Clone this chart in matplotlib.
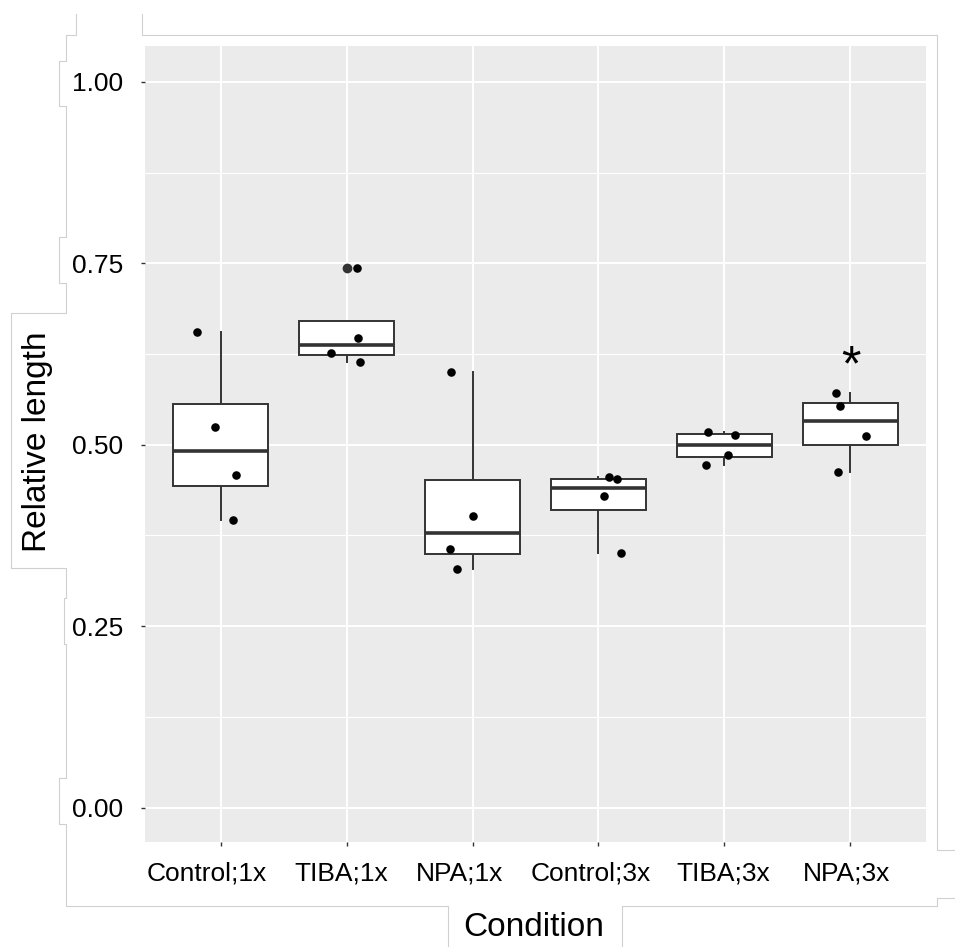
import numpy as np
import matplotlib.pyplot as plt
import matplotlib.transforms as mtransforms
from matplotlib.lines import Line2D

# ---------------------------------------------------------------------------
# Data
# ---------------------------------------------------------------------------
conditions = ["Control;1x", "TIBA;1x", "NPA;1x", "Control;3x", "TIBA;3x", "NPA;3x"]

rel_length = [
    [0.655, 0.524, 0.459, 0.396],   # Control;1x
    [0.743, 0.647, 0.627, 0.614],   # TIBA;1x
    [0.600, 0.402, 0.356, 0.329],   # NPA;1x
    [0.455, 0.453, 0.429, 0.351],   # Control;3x
    [0.518, 0.514, 0.486, 0.472],   # TIBA;3x
    [0.572, 0.553, 0.512, 0.4625],  # NPA;3x
]

# horizontal jitter of each point (in category units), same order as above
jitter = [
    [-0.19, -0.045, 0.125, 0.10],
    [0.08, 0.087, -0.127, 0.11],
    [-0.17, 0.0, -0.18, -0.125],
    [0.08, 0.148, 0.047, 0.18],
    [-0.127, 0.087, 0.03, -0.15],
    [-0.116, -0.082, 0.122, -0.095],
]

signif = ["", "", "", "", "", "*"]

# ---------------------------------------------------------------------------
# Figure
# ---------------------------------------------------------------------------
W, H = 955, 947
plt.rcParams["font.family"] = ["Liberation Sans", "DejaVu Sans"]

fig = plt.figure(figsize=(W / 100, H / 100), dpi=100)
ax = fig.add_axes([145 / W, 1 - 841.7 / H, (926 - 145) / W, (841.7 - 45.7) / H])

pos = np.arange(1, len(conditions) + 1)
line_col = "#333333"

ax.boxplot(
    rel_length, positions=pos, widths=0.75, patch_artist=True,
    whis=1.5, showcaps=False,
    boxprops=dict(facecolor="white", edgecolor=line_col, linewidth=1.4, zorder=3),
    whiskerprops=dict(color=line_col, linewidth=1.4, zorder=2),
    medianprops=dict(color=line_col, linewidth=2.6, zorder=3.5),
    flierprops=dict(marker="o", markerfacecolor=line_col, markeredgecolor=line_col,
                    markersize=6, zorder=4),
)

for i, (vals, jit) in enumerate(zip(rel_length, jitter)):
    ax.scatter(pos[i] + np.array(jit), vals, s=38, color="black",
               linewidths=0, zorder=5)

for i, lab in enumerate(signif):
    if lab:
        top = max(rel_length[i])
        ax.text(pos[i], top + 0.035, lab, ha="center", va="center",
                fontsize=36, color="black", zorder=6)

# ggplot-like styling
ax.set_xlim(0.4, len(conditions) + 0.6)
ax.set_ylim(-0.047, 1.05)
ax.set_facecolor("#EBEBEB")
for s in ax.spines.values():
    s.set_visible(False)

ax.set_xticks(pos)
ax.set_xticklabels(conditions)
ax.set_yticks([0, 0.25, 0.5, 0.75, 1.0])
ax.set_yticklabels(["0.00", "0.25", "0.50", "0.75", "1.00"])
ax.set_yticks([0.125, 0.375, 0.625, 0.875], minor=True)
ax.tick_params(axis="y", which="major", length=3, width=1, color=line_col,
               labelsize=19, labelcolor="black", pad=13)
ax.tick_params(axis="x", which="major", length=3.2, width=1, color=line_col,
               labelsize=19, labelcolor="black", pad=11)
ax.tick_params(axis="y", which="minor", length=0)

# the x labels in the source sit a little left of their ticks
label_shift_px = [-14, -5, -13, -8, -1, -4]
for lab, dx in zip(ax.get_xticklabels(), label_shift_px):
    lab.set_transform(lab.get_transform() +
                      mtransforms.ScaledTranslation(dx / 100, 0, fig.dpi_scale_trans))

ax.set_axisbelow(True)
ax.grid(which="major", color="white", linewidth=1.4)
ax.grid(which="minor", axis="y", color="white", linewidth=0.8)

fig.text(38 / W, 1 - 442 / H, "Relative length", rotation=90,
         ha="center", va="center", fontsize=24, color="black")
fig.text(534 / W, 1 - 927 / H, "Condition",
         ha="center", va="center", fontsize=24, color="black")

# ---------------------------------------------------------------------------
# Light grey outline pieces around the labels (as in the source image)
# ---------------------------------------------------------------------------
outline = [
    [(75.7, 14), (75.7, 35), (65.7, 35), (65.7, 61), (58.7, 61), (58.7, 106),
     (65.7, 106), (65.7, 237), (58.7, 237), (58.7, 283), (65.7, 283),
     (65.7, 313), (10.7, 313), (10.7, 568), (65.7, 568), (65.7, 598),
     (63.7, 598), (63.7, 644), (65.7, 644), (65.7, 778), (58.7, 778),
     (58.7, 824), (65.7, 824), (65.7, 906), (447.7, 906), (447.7, 947)],
    [(141.7, 14), (141.7, 35), (937, 35), (937, 850), (955, 850)],
    [(955, 898), (937, 898), (937, 906), (621.7, 906), (621.7, 947)],
]
for path in outline:
    xs = [p[0] / W for p in path]
    ys = [1 - p[1] / H for p in path]
    fig.add_artist(Line2D(xs, ys, color="#d0d0d0", linewidth=0.8,
                          transform=fig.transFigure))

fig.savefig("out.png", dpi=100)
